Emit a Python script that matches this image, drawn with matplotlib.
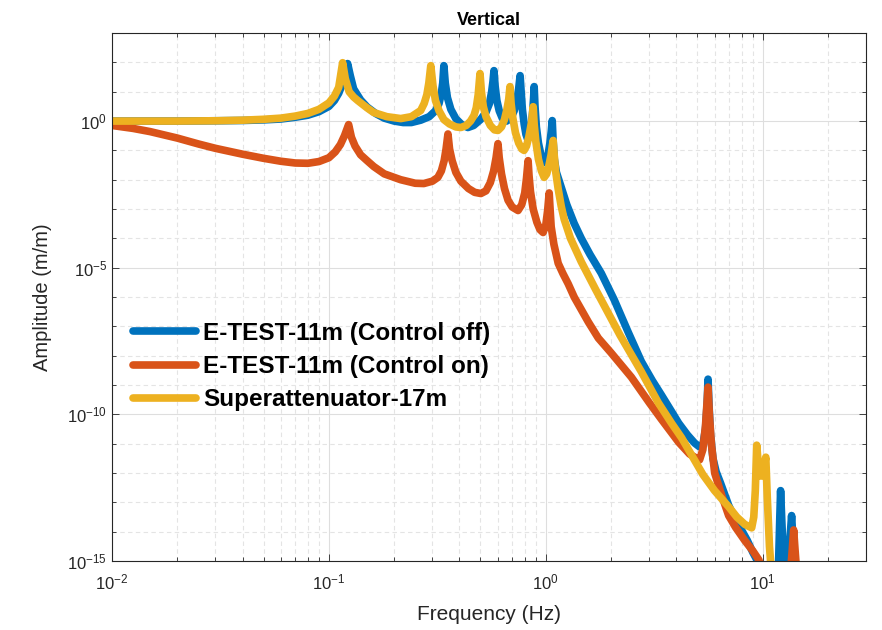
import numpy as np
import matplotlib
matplotlib.use('Agg')
from matplotlib import pyplot as plt
from matplotlib.ticker import NullFormatter

## DATA  (frequency in Hz, amplitude as log10 exponent)

f_off = [0.01, 0.015, 0.02, 0.03, 0.04, 0.05, 0.06, 0.07, 0.08, 0.09, 0.1, 0.106,
         0.111, 0.116, 0.119, 0.122, 0.1255, 0.13, 0.14, 0.15, 0.165, 0.18, 0.2,
         0.22, 0.24, 0.265, 0.29, 0.31, 0.322, 0.33, 0.335, 0.339, 0.344, 0.352,
         0.365, 0.385, 0.41, 0.4375, 0.465, 0.5, 0.53, 0.55, 0.563, 0.571, 0.577,
         0.584, 0.595, 0.61, 0.63, 0.66, 0.69, 0.715, 0.735, 0.75, 0.7615, 0.77,
         0.78, 0.795, 0.81, 0.825, 0.845, 0.86, 0.872, 0.879, 0.884, 0.892, 0.905,
         0.925, 0.95, 0.975, 1.0, 1.025, 1.045, 1.06, 1.071, 1.08, 1.095, 1.12, 1.16,
         1.25, 1.352, 1.458, 1.6, 1.803, 2.07, 2.4, 2.76, 3.1, 3.42, 3.8, 4.1, 4.5,
         4.86, 5.1, 5.3, 5.45, 5.55, 5.6, 5.66, 5.75, 5.9, 6.1, 6.4, 6.97, 7.5, 8.0,
         8.5, 9.0, 9.4, 9.9, 11.8, 12.0, 12.1, 12.25, 12.5, 13.0, 13.35, 13.6, 13.8, 14.0]
a_off = [0.0, 0.0, 0.0, 0.01, 0.02, 0.04, 0.07, 0.13, 0.2, 0.32, 0.5, 0.7,
         0.95, 1.3, 1.6, 1.96, 1.55, 1.1, 0.72, 0.48, 0.25, 0.1, 0.0,
         -0.05, -0.05, 0.03, 0.15, 0.35, 0.6, 0.95, 1.3, 1.89, 1.3, 0.8,
         0.4, 0.08, -0.12, -0.22, -0.15, 0.05, 0.3, 0.6, 1.0, 1.35, 1.72,
         1.2, 0.7, 0.35, 0.1, 0.0, 0.1, 0.35, 0.7, 1.1, 1.55, 1.0,
         0.4, -0.1, -0.45, -0.62, -0.45, -0.1, 0.4, 0.8, 1.175, 0.5, -0.2,
         -0.75, -1.15, -1.4, -1.42, -1.15, -0.75, -0.35, 0.017, -0.6, -1.3, -1.75, -2.1,
         -2.85, -3.49, -4.0, -4.55, -5.19, -6.1, -7.2, -8.2, -8.85, -9.35, -9.9, -10.3, -10.7,
         -10.98, -11.1, -11.05, -10.5, -9.6, -8.8, -9.7, -10.7, -11.5, -11.95, -12.35, -13.1, -13.6, -13.95,
         -14.3, -14.7, -14.96, -15.5, -15.5, -13.5, -12.6, -13.6, -15.1, -15.1, -14.3, -13.45, -14.3, -15.5]

f_on = [0.01, 0.0125, 0.015, 0.02, 0.025, 0.03, 0.04, 0.05, 0.06, 0.07, 0.08, 0.09,
        0.1, 0.107, 0.113, 0.118, 0.1233, 0.127, 0.132, 0.14, 0.15, 0.161, 0.18,
        0.2144, 0.25, 0.274, 0.3, 0.318, 0.33, 0.34, 0.347, 0.354, 0.36, 0.37, 0.385,
        0.406, 0.44, 0.47, 0.502, 0.53, 0.555, 0.575, 0.59, 0.602, 0.61, 0.625,
        0.645, 0.67, 0.7, 0.745, 0.775, 0.8, 0.815, 0.829, 0.837, 0.85, 0.875,
        0.91, 0.94, 0.972, 1.0, 1.02, 1.037, 1.045, 1.059, 1.09, 1.141, 1.2, 1.269,
        1.352, 1.571, 1.747, 2.0, 2.48, 3.0, 3.4, 4.1, 4.6, 4.86, 5.12, 5.3, 5.45,
        5.6, 5.68, 5.8, 6.01, 6.5, 6.97, 7.5, 8.27, 9.0, 9.6, 10.2, 13.4, 13.7,
        13.9, 14.1, 14.4]
a_on = [-0.15, -0.25, -0.36, -0.58, -0.78, -0.93, -1.13, -1.27, -1.37, -1.43, -1.44, -1.38,
        -1.25, -1.05, -0.8, -0.5, -0.12, -0.55, -0.85, -1.15, -1.35, -1.55, -1.8,
        -2.0, -2.12, -2.13, -2.05, -1.92, -1.7, -1.35, -0.95, -0.44, -0.95, -1.35, -1.75,
        -2.05, -2.3, -2.43, -2.47, -2.38, -2.1, -1.7, -1.25, -0.77, -1.25, -1.8,
        -2.3, -2.7, -2.93, -3.05, -2.85, -2.45, -1.95, -1.35, -1.85, -2.4, -3.0,
        -3.45, -3.7, -3.8, -3.55, -3.05, -2.45, -2.9, -3.6, -4.2, -4.85, -5.2, -5.55,
        -6.0, -6.85, -7.4, -7.9, -8.73, -9.6, -10.15, -10.95, -11.35, -11.46, -11.55, -11.2, -10.4,
        -9.07, -10.0, -11.0, -12.0, -12.8, -13.45, -13.85, -14.3, -14.65, -14.96, -15.5, -15.5, -14.6,
        -13.94, -14.6, -15.5]

f_sa = [0.01, 0.015, 0.02, 0.03, 0.04, 0.05, 0.06, 0.07, 0.08, 0.09, 0.1, 0.106,
        0.111, 0.1157, 0.119, 0.124, 0.13, 0.1358, 0.15, 0.161, 0.185, 0.2144,
        0.24, 0.265, 0.275, 0.283, 0.289, 0.295, 0.302, 0.31, 0.322, 0.339, 0.36,
        0.385, 0.406, 0.43, 0.45, 0.4666, 0.478, 0.488, 0.4975, 0.505, 0.515, 0.53,
        0.555, 0.58, 0.602, 0.625, 0.645, 0.662, 0.675, 0.684, 0.692, 0.705, 0.725,
        0.75, 0.775, 0.794, 0.815, 0.835, 0.852, 0.865, 0.875, 0.884, 0.9, 0.925,
        0.955, 0.983, 1.01, 1.035, 1.058, 1.072, 1.082, 1.092, 1.11, 1.14, 1.178,
        1.216, 1.3, 1.458, 1.7, 1.942, 2.2, 2.76, 3.3, 3.8, 4.23, 4.8, 5.3, 6.0,
        6.97, 7.6, 8.27, 8.9, 9.1, 9.25, 9.39, 9.55, 9.75, 9.95, 10.15, 10.34,
        10.5, 10.75, 11.0]
a_sa = [0.0, 0.0, 0.0, 0.01, 0.03, 0.06, 0.1, 0.17, 0.26, 0.4, 0.62, 0.85,
        1.15, 1.99, 1.45, 1.0, 0.82, 0.7, 0.45, 0.29, 0.15, 0.085,
        0.15, 0.36, 0.6, 0.9, 1.3, 1.89, 1.2, 0.7, 0.35, 0.05, -0.1,
        -0.2, -0.22, -0.15, 0.0, 0.19, 0.45, 0.9, 1.62, 1.0, 0.5, 0.15,
        -0.15, -0.3, -0.32, -0.2, 0.05, 0.4, 0.75, 1.175, 0.6, 0.1, -0.4,
        -0.75, -0.95, -1.0, -0.85, -0.55, -0.2, 0.1, 0.49, -0.1, -0.7, -1.3,
        -1.7, -1.92, -1.8, -1.5, -1.15, -0.85, -0.66, -1.1, -1.7, -2.3, -2.9,
        -3.35, -4.0, -4.8, -5.75, -6.55, -7.3, -8.55, -9.6, -10.3, -10.8, -11.5, -12.05, -12.6,
        -13.15, -13.5, -13.75, -13.87, -13.5, -12.6, -11.05, -11.7, -12.1, -12.1, -11.8, -11.46,
        -12.8, -14.5, -15.5]

labels = ['E-TEST-11m (Control off)', 'E-TEST-11m (Control on)', 'Superattenuator-17m']
colors = ['#0072BD', '#D95319', '#EDB120']

## STYLE

plt.rcParams['font.family'] = ['Liberation Sans', 'DejaVu Sans']
plt.rcParams['mathtext.fontset'] = 'custom'
plt.rcParams['mathtext.rm'] = 'Liberation Sans'
plt.rcParams['mathtext.it'] = 'Liberation Sans:italic'
plt.rcParams['mathtext.bf'] = 'Liberation Sans:bold'

dark = '#262626'

fig = plt.figure(figsize=(8.82, 6.3), dpi=100)
ax = fig.add_axes([0.127, 0.1095, 0.855, 0.838])

series = [(f_off, a_off), (f_on, a_on), (f_sa, a_sa)]
for (f, a), lab, c in zip(series, labels, colors):
    ax.plot(f, 10.0 ** np.array(a), color=c, lw=5.5, label=lab,
            solid_joinstyle='round', solid_capstyle='round')

ax.set_xscale('log')
ax.set_yscale('log')
ax.set_xlim(1e-2, 30)
ax.set_ylim(1e-15, 1e3)

ax.set_yticks([1e-15, 1e-10, 1e-5, 1e0])
ax.set_yticks([10.0 ** k for k in range(-15, 4)], minor=True)
ax.yaxis.set_minor_formatter(NullFormatter())
ax.xaxis.set_minor_formatter(NullFormatter())

ax.grid(which='major', color='#dedede', lw=0.8, ls='-')
ax.grid(which='minor', color='#e4e4e4', lw=0.8, ls=(0, (4, 3)))
ax.set_axisbelow(True)

for sp in ax.spines.values():
    sp.set_color(dark)
    sp.set_linewidth(0.8)
ax.tick_params(which='both', direction='in', top=True, right=True, colors=dark,
               labelsize=12, width=0.6)
ax.tick_params(which='major', length=5)
ax.tick_params(which='minor', length=3)
ax.tick_params(axis='x', pad=8)

ax.set_title('Vertical', fontsize=13, fontweight='bold', color='black', pad=6)
ax.set_xlabel('Frequency (Hz)', fontsize=15, color=dark, labelpad=9)
ax.set_ylabel('Amplitude (m/m)', fontsize=14.5, color=dark, labelpad=11)

leg = ax.legend(loc='upper left', bbox_to_anchor=(0.005, 0.485), frameon=False,
                prop={'weight': 'bold', 'size': 17.5}, handlelength=2.6,
                handletextpad=0.3, labelspacing=0.42, borderpad=0.2)
for line in leg.get_lines():
    line.set_linewidth(5.5)

fig.savefig('out.png', dpi=100)
